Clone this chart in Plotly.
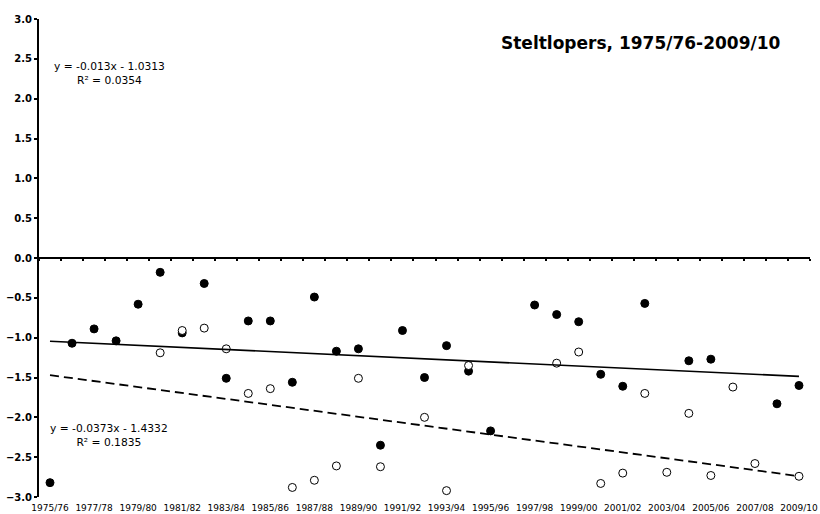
import plotly.graph_objects as go

seasons = [f"{y}/{str(y + 1)[-2:]}" for y in range(1975, 2010)]

filled_vals = [-2.82, -1.07, -0.89, -1.04, -0.58, -0.18, -0.94, -0.32, -1.51, -0.79,
               -0.79, -1.56, -0.49, -1.17, -1.14, -2.35, -0.91, -1.50, -1.10, -1.42,
               -2.17, None, -0.59, -0.71, -0.80, -1.46, -1.61, -0.57, None, -1.29,
               -1.27, None, None, -1.83, -1.60]

open_vals = [None, None, None, None, None, -1.19, -0.91, -0.88, -1.14, -1.70,
             -1.64, -2.88, -2.79, -2.61, -1.51, -2.62, None, -2.00, -2.92, -1.35,
             None, None, None, -1.32, -1.18, -2.83, -2.70, -1.70, -2.69, -1.95,
             -2.73, -1.62, -2.58, None, -2.74]

# trend line coefficients (Excel x = 1..35): slope, intercept, R²
trend_filled = (-0.013, -1.0313, 0.0354)
trend_open = (-0.0373, -1.4332, 0.1835)

title = "Steltlopers, 1975/76-2009/10"

FONT = "DejaVu Sans, Liberation Sans, Arial, sans-serif"

n = len(seasons)
xs = list(range(n))
tick_idx = list(range(0, n, 2))

fig = go.Figure()

fig.add_trace(go.Scatter(
    x=xs, y=filled_vals, mode="markers",
    marker=dict(size=8, color="black", line=dict(color="black", width=1)),
    showlegend=False))
fig.add_trace(go.Scatter(
    x=xs, y=open_vals, mode="markers",
    marker=dict(size=8, color="white", line=dict(color="black", width=1)),
    showlegend=False))

ends = [0, n - 1]
fig.add_trace(go.Scatter(
    x=ends, y=[trend_filled[0] * (i + 1) + trend_filled[1] for i in ends],
    mode="lines", line=dict(color="black", width=1.6), showlegend=False))
fig.add_trace(go.Scatter(
    x=ends, y=[trend_open[0] * (i + 1) + trend_open[1] for i in ends],
    mode="lines", line=dict(color="black", width=1.8, dash="9px,5px"), showlegend=False))

# zero-crossing x axis (line + small ticks), drawn as overlaying axis
fig.add_trace(go.Scatter(x=[0], y=[0], xaxis="x2", mode="markers",
                         marker=dict(opacity=0), showlegend=False, hoverinfo="skip"))

fig.update_layout(
    width=820, height=514,
    margin=dict(l=39, r=10, t=19, b=17),
    paper_bgcolor="white", plot_bgcolor="white",
    font=dict(family=FONT, color="black"),
    xaxis=dict(range=[-0.5, n - 0.5], showgrid=False, zeroline=False, showline=False,
               tickmode="array", tickvals=tick_idx, ticktext=[seasons[i] for i in tick_idx],
               ticks="outside", ticklen=2, tickcolor="rgba(0,0,0,0)",
               tickfont=dict(size=9, family=FONT), tickangle=0, automargin=False),
    xaxis2=dict(overlaying="x", anchor="free", position=0.5, matches="x",
                range=[-0.5, n - 0.5], showgrid=False, zeroline=False,
                showline=True, linecolor="black", linewidth=2,
                tickmode="array", tickvals=[i + 0.5 for i in range(-1, n)],
                ticks="outside", ticklen=2, tickwidth=1.5, tickcolor="black",
                showticklabels=False),
    yaxis=dict(range=[-3, 3], showgrid=False, zeroline=False, showline=True,
               linecolor="black", linewidth=2, tickmode="linear", tick0=-3, dtick=0.5,
               tickformat=".1f", ticks="outside", ticklen=3, tickwidth=1.5, tickcolor="black",
               tickfont=dict(size=10, weight="bold", family=FONT), automargin=False),
)

fig.add_annotation(x=26.83, y=2.70, xref="x", yref="y", text=f"<b>{title}</b>",
                   showarrow=False, font=dict(size=17, family=FONT))
fig.add_annotation(x=2.70, y=2.31, xref="x", yref="y",
                   text=f"y = {trend_filled[0]}x - {abs(trend_filled[1])}<br>R² = {trend_filled[2]}",
                   showarrow=False, align="center", font=dict(size=10.7, family=FONT))
fig.add_annotation(x=2.70, y=-2.23, xref="x", yref="y",
                   text=f"y = {trend_open[0]}x - {abs(trend_open[1])}<br>R² = {trend_open[2]}",
                   showarrow=False, align="center", font=dict(size=10.7, family=FONT))

fig.write_html("out.html")
